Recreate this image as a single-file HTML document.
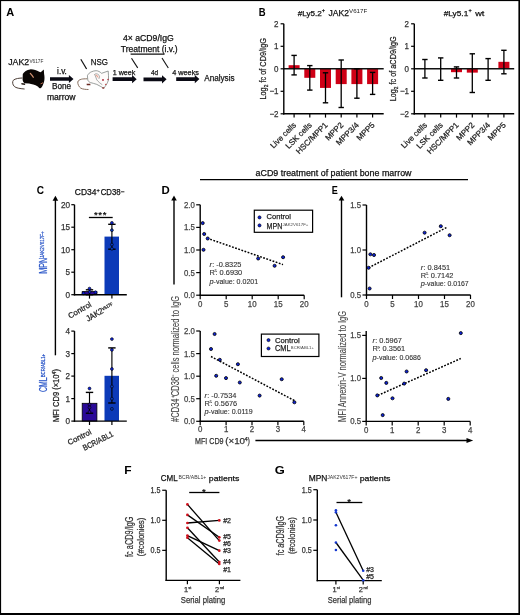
<!DOCTYPE html>
<html><head><meta charset="utf-8"><style>
html,body{margin:0;padding:0;background:#fff;}
svg{display:block;font-family:"Liberation Sans", sans-serif;will-change:transform;}
</style></head><body>
<svg width="520" height="615" viewBox="0 0 520 615">
<rect x="0" y="0" width="520" height="615" fill="#fff"/>
<rect x="0" y="0" width="520" height="1.1" fill="#000"/>
<rect x="0" y="0" width="1.1" height="615" fill="#000"/>
<rect x="518.4" y="0" width="1.6" height="615" fill="#000"/>
<rect x="0" y="613" width="520" height="2" fill="#000"/>
<text x="6.23" y="15.70" font-size="11.2" font-weight="bold" textLength="7.97" lengthAdjust="spacingAndGlyphs">A</text>
<text x="8.20" y="65.20" font-size="9.6" fill="#111" textLength="21.00" lengthAdjust="spacingAndGlyphs" stroke="#111" stroke-width="0.25">JAK2</text>
<text x="29.40" y="62.60" font-size="4.8" fill="#333" textLength="14.00" lengthAdjust="spacingAndGlyphs" stroke="none">V617F</text>
<path d="M50.00 77.15 H68.90 V74.90 L73.50 79.00 L68.90 83.10 V80.85 H50.00 Z" fill="#0a0a14"/>
<path d="M112.60 77.35 H132.10 V75.10 L136.70 79.20 L132.10 83.30 V81.05 H112.60 Z" fill="#0a0a14"/>
<path d="M143.50 77.45 H162.00 V75.20 L166.60 79.30 L162.00 83.40 V81.15 H143.50 Z" fill="#0a0a14"/>
<path d="M176.20 77.25 H194.80 V75.00 L199.40 79.10 L194.80 83.20 V80.95 H176.20 Z" fill="#0a0a14"/>
<text x="62.00" y="73.70" font-size="8.3" text-anchor="middle" fill="#111" textLength="9.80" lengthAdjust="spacingAndGlyphs" stroke="#111" stroke-width="0.25">i.v.</text>
<text x="61.60" y="88.90" font-size="8.3" text-anchor="middle" fill="#111" textLength="19.20" lengthAdjust="spacingAndGlyphs" stroke="#111" stroke-width="0.25">Bone</text>
<text x="61.25" y="99.50" font-size="8.3" text-anchor="middle" fill="#111" textLength="28.70" lengthAdjust="spacingAndGlyphs" stroke="#111" stroke-width="0.25">marrow</text>
<text x="90.80" y="65.00" font-size="9.6" fill="#111" textLength="17.20" lengthAdjust="spacingAndGlyphs" stroke="#111" stroke-width="0.25">NSG</text>
<line x1="80.80" y1="59.20" x2="86.60" y2="69.00" stroke="#111" stroke-width="1.2" />
<text x="112.70" y="75.20" font-size="7.6" fill="#111" textLength="22.70" lengthAdjust="spacingAndGlyphs" stroke="#111" stroke-width="0.25">1 week</text>
<text x="154.60" y="75.00" font-size="7.6" text-anchor="middle" fill="#111" textLength="7.20" lengthAdjust="spacingAndGlyphs" stroke="#111" stroke-width="0.25">4d</text>
<text x="172.20" y="75.20" font-size="7.6" fill="#111" textLength="26.80" lengthAdjust="spacingAndGlyphs" stroke="#111" stroke-width="0.25">4 weeks</text>
<text x="204.20" y="80.80" font-size="9.2" fill="#111" textLength="30.40" lengthAdjust="spacingAndGlyphs" stroke="#111" stroke-width="0.25">Analysis</text>
<text x="123.00" y="41.20" font-size="8.3" fill="#111" textLength="50.80" lengthAdjust="spacingAndGlyphs" stroke="#111" stroke-width="0.25">4× aCD9/IgG</text>
<text x="120.80" y="51.90" font-size="8.3" fill="#111" textLength="56.90" lengthAdjust="spacingAndGlyphs" stroke="#111" stroke-width="0.25">Treatment (i.v.)</text>
<line x1="130.60" y1="54.20" x2="164.40" y2="54.20" stroke="#111" stroke-width="1.2" />
<line x1="131.50" y1="58.30" x2="137.70" y2="67.90" stroke="#111" stroke-width="1.1" />
<line x1="162.00" y1="58.00" x2="168.30" y2="68.00" stroke="#111" stroke-width="1.1" />
<g id="blackmouse">
<path d="M22.4 78 C19.5 78.1 15 78.5 13.3 80.3 C12.2 81.6 12.4 84.8 14.4 86.5 C16 88 19.5 88.6 24.6 89" fill="none" stroke="#4e4038" stroke-width="1.0"/>
<path d="M22.8 74 C24 71.5 27 69.8 30 69.4 C33 69.1 36.5 70.3 39.2 71.8 L40.7 72.2 L43.8 69.6 L44.1 74 C44.6 76.5 44.6 79 44.3 80.6 C44 82.5 43.4 84 42.9 85 C42.3 86.5 41.5 87.8 40.5 88.3 C39.5 88.4 38.5 87.3 37.8 86.5 C35 85 31.5 84 29 83.6 L24.6 83.3 C23.5 82.5 22.6 81 22.6 79.5 Z" fill="#0a0604"/>
<path d="M21.3 83.0 L25 83.4 L25.2 84.9 L21.6 84.6 Z" fill="#1a100a"/>
<path d="M30.3 73.4 C31.5 74.6 32.6 76 33.3 77.3" stroke="#d09070" stroke-width="1.3" fill="none" stroke-linecap="round"/>
<path d="M40.6 83.8 C41.6 83.6 42.4 83.2 43 82.6" stroke="#b86a4a" stroke-width="1.0" fill="none"/>
</g>
<g id="whitemouse">
<path d="M87.4 78.8 C85 78.8 82.5 78.9 81.5 79.2 C79.5 79.8 78 80.5 77.8 82 C77.6 84 78.8 86.8 80.8 88.2 C83 89.3 86 89.5 88.5 89.5" fill="none" stroke="#7a604e" stroke-width="0.9"/>
<path d="M87.4 75.7 C88.5 73.5 89.8 72.5 91.2 71.9 C93 71.1 94.5 70.7 96.1 70.7 C98 70.7 100 71.9 101.6 73.3 L108.2 71.0 L108.5 75.7 C108.6 77 108.6 78.6 108.5 79.9 C108 81.5 107.3 83.2 106.5 84.4 C105.6 85.8 104.7 87.2 103.7 88.2 C101.5 87 99 85.5 96.8 84.4 C94.5 83.6 92.3 83.1 90.5 82.6 C89 82 88 81 87.8 79.9 Z" fill="#fdfbfa" stroke="#6f7573" stroke-width="0.7"/>
<path d="M94.7 74.3 C95.5 76 96 78 96.8 79.9 C98.5 82 100.5 83.5 102.3 84.7" fill="none" stroke="#6f7573" stroke-width="0.6"/>
<path d="M94.4 74.6 C95.5 73.3 97.5 73.5 99 75.2 C99.9 76.4 99.7 78 98.6 79" fill="none" stroke="#7a7f7d" stroke-width="0.6"/>
<path d="M96.0 75.0 C96.8 75.7 97.6 76.4 98.1 77.2" stroke="#e6a696" stroke-width="1.1" fill="none" stroke-linecap="round"/>
<circle cx="103.0" cy="79.9" r="0.95" fill="#a8182a"/>
<circle cx="108.0" cy="79.5" r="0.7" fill="#a8182a"/>
<circle cx="105.8" cy="84.4" r="0.7" fill="#c03838"/>
<path d="M102.2 87.6 L104.2 87.2 L104.4 88.6 L102.4 88.8 Z" fill="#8a2a22"/>
<path d="M86.6 83.8 L90.3 83.7 L90.5 85.2 L86.8 85.2 Z" fill="#6a2a22"/>
</g>
<text x="258.66" y="15.80" font-size="11.2" font-weight="bold" textLength="6.87" lengthAdjust="spacingAndGlyphs">B</text>
<rect x="288.60" y="65.20" width="11.00" height="3.60" fill="#cf0016"/>
<rect x="304.30" y="68.80" width="11.00" height="9.00" fill="#cf0016"/>
<rect x="320.00" y="68.80" width="11.00" height="19.12" fill="#cf0016"/>
<rect x="335.70" y="68.80" width="11.00" height="15.30" fill="#cf0016"/>
<rect x="351.40" y="68.80" width="11.00" height="15.30" fill="#cf0016"/>
<rect x="367.10" y="68.80" width="11.00" height="15.30" fill="#cf0016"/>
<line x1="283.80" y1="68.80" x2="383.70" y2="68.80" stroke="#111" stroke-width="1.5" />
<line x1="294.10" y1="55.40" x2="294.10" y2="74.90" stroke="#000" stroke-width="1.3" />
<line x1="291.40" y1="55.40" x2="296.80" y2="55.40" stroke="#000" stroke-width="1.4" />
<line x1="291.40" y1="74.90" x2="296.80" y2="74.90" stroke="#000" stroke-width="1.4" />
<line x1="309.80" y1="65.60" x2="309.80" y2="90.10" stroke="#000" stroke-width="1.3" />
<line x1="307.10" y1="65.60" x2="312.50" y2="65.60" stroke="#000" stroke-width="1.4" />
<line x1="307.10" y1="90.10" x2="312.50" y2="90.10" stroke="#000" stroke-width="1.4" />
<line x1="325.50" y1="72.80" x2="325.50" y2="102.80" stroke="#000" stroke-width="1.3" />
<line x1="322.80" y1="72.80" x2="328.20" y2="72.80" stroke="#000" stroke-width="1.4" />
<line x1="322.80" y1="102.80" x2="328.20" y2="102.80" stroke="#000" stroke-width="1.4" />
<line x1="341.20" y1="60.00" x2="341.20" y2="107.50" stroke="#000" stroke-width="1.3" />
<line x1="338.50" y1="60.00" x2="343.90" y2="60.00" stroke="#000" stroke-width="1.4" />
<line x1="338.50" y1="107.50" x2="343.90" y2="107.50" stroke="#000" stroke-width="1.4" />
<line x1="356.90" y1="68.80" x2="356.90" y2="98.20" stroke="#000" stroke-width="1.3" />
<line x1="354.20" y1="68.80" x2="359.60" y2="68.80" stroke="#000" stroke-width="1.4" />
<line x1="354.20" y1="98.20" x2="359.60" y2="98.20" stroke="#000" stroke-width="1.4" />
<line x1="372.60" y1="72.40" x2="372.60" y2="94.40" stroke="#000" stroke-width="1.3" />
<line x1="369.90" y1="72.40" x2="375.30" y2="72.40" stroke="#000" stroke-width="1.4" />
<line x1="369.90" y1="94.40" x2="375.30" y2="94.40" stroke="#000" stroke-width="1.4" />
<line x1="283.80" y1="23.80" x2="283.80" y2="114.50" stroke="#000" stroke-width="1.4" />
<line x1="283.10" y1="113.80" x2="383.70" y2="113.80" stroke="#000" stroke-width="1.4" />
<line x1="280.60" y1="23.80" x2="283.80" y2="23.80" stroke="#000" stroke-width="1.2" />
<text x="278.50" y="26.90" font-size="8.8" text-anchor="end" fill="#333" textLength="4.45" lengthAdjust="spacingAndGlyphs" stroke="#333" stroke-width="0.25">2</text>
<line x1="280.60" y1="46.30" x2="283.80" y2="46.30" stroke="#000" stroke-width="1.2" />
<text x="278.50" y="49.40" font-size="8.8" text-anchor="end" fill="#333" textLength="4.45" lengthAdjust="spacingAndGlyphs" stroke="#333" stroke-width="0.25">1</text>
<line x1="280.60" y1="68.80" x2="283.80" y2="68.80" stroke="#000" stroke-width="1.2" />
<text x="278.50" y="71.90" font-size="8.8" text-anchor="end" fill="#333" textLength="4.45" lengthAdjust="spacingAndGlyphs" stroke="#333" stroke-width="0.25">0</text>
<line x1="280.60" y1="91.30" x2="283.80" y2="91.30" stroke="#000" stroke-width="1.2" />
<text x="278.50" y="94.40" font-size="8.8" text-anchor="end" fill="#333" textLength="9.12" lengthAdjust="spacingAndGlyphs" stroke="#333" stroke-width="0.25">−1</text>
<line x1="280.60" y1="113.80" x2="283.80" y2="113.80" stroke="#000" stroke-width="1.2" />
<text x="278.50" y="116.90" font-size="8.8" text-anchor="end" fill="#333" textLength="9.12" lengthAdjust="spacingAndGlyphs" stroke="#333" stroke-width="0.25">−2</text>
<line x1="294.10" y1="113.80" x2="294.10" y2="117.60" stroke="#000" stroke-width="1.2" />
<line x1="309.80" y1="113.80" x2="309.80" y2="117.60" stroke="#000" stroke-width="1.2" />
<line x1="325.50" y1="113.80" x2="325.50" y2="117.60" stroke="#000" stroke-width="1.2" />
<line x1="341.20" y1="113.80" x2="341.20" y2="117.60" stroke="#000" stroke-width="1.2" />
<line x1="356.90" y1="113.80" x2="356.90" y2="117.60" stroke="#000" stroke-width="1.2" />
<line x1="372.60" y1="113.80" x2="372.60" y2="117.60" stroke="#000" stroke-width="1.2" />
<text x="0" y="0" font-size="9.2" fill="#222" text-anchor="middle" textLength="61.5" lengthAdjust="spacingAndGlyphs" transform="translate(265.80 68.80) rotate(-90)" stroke="#222" stroke-width="0.25">Log<tspan font-size="6" dy="2">2</tspan><tspan dy="-2"> fc of CD9/IgG</tspan></text>
<text x="296.70" y="125.60" font-size="8.0" text-anchor="end" fill="#222" transform="rotate(-45 296.70 125.60)" stroke="#222" stroke-width="0.25">Live cells</text>
<text x="312.40" y="125.60" font-size="8.0" text-anchor="end" fill="#222" transform="rotate(-45 312.40 125.60)" stroke="#222" stroke-width="0.25">LSK cells</text>
<text x="328.10" y="125.60" font-size="8.0" text-anchor="end" fill="#222" transform="rotate(-45 328.10 125.60)" stroke="#222" stroke-width="0.25">HSC/MPP1</text>
<text x="343.80" y="125.60" font-size="8.0" text-anchor="end" fill="#222" transform="rotate(-45 343.80 125.60)" stroke="#222" stroke-width="0.25">MPP2</text>
<text x="359.50" y="125.60" font-size="8.0" text-anchor="end" fill="#222" transform="rotate(-45 359.50 125.60)" stroke="#222" stroke-width="0.25">MPP3/4</text>
<text x="375.20" y="125.60" font-size="8.0" text-anchor="end" fill="#222" transform="rotate(-45 375.20 125.60)" stroke="#222" stroke-width="0.25">MPP5</text>
<rect x="451.00" y="68.80" width="11.00" height="3.38" fill="#cf0016"/>
<rect x="466.80" y="68.80" width="11.00" height="3.83" fill="#cf0016"/>
<rect x="498.40" y="61.82" width="11.00" height="6.98" fill="#cf0016"/>
<line x1="414.30" y1="68.80" x2="514.20" y2="68.80" stroke="#111" stroke-width="1.5" />
<line x1="424.90" y1="59.50" x2="424.90" y2="78.00" stroke="#000" stroke-width="1.3" />
<line x1="422.20" y1="59.50" x2="427.60" y2="59.50" stroke="#000" stroke-width="1.4" />
<line x1="422.20" y1="78.00" x2="427.60" y2="78.00" stroke="#000" stroke-width="1.4" />
<line x1="440.70" y1="57.90" x2="440.70" y2="80.30" stroke="#000" stroke-width="1.3" />
<line x1="438.00" y1="57.90" x2="443.40" y2="57.90" stroke="#000" stroke-width="1.4" />
<line x1="438.00" y1="80.30" x2="443.40" y2="80.30" stroke="#000" stroke-width="1.4" />
<line x1="456.50" y1="66.90" x2="456.50" y2="78.00" stroke="#000" stroke-width="1.3" />
<line x1="453.80" y1="66.90" x2="459.20" y2="66.90" stroke="#000" stroke-width="1.4" />
<line x1="453.80" y1="78.00" x2="459.20" y2="78.00" stroke="#000" stroke-width="1.4" />
<line x1="472.30" y1="53.80" x2="472.30" y2="92.50" stroke="#000" stroke-width="1.3" />
<line x1="469.60" y1="53.80" x2="475.00" y2="53.80" stroke="#000" stroke-width="1.4" />
<line x1="469.60" y1="92.50" x2="475.00" y2="92.50" stroke="#000" stroke-width="1.4" />
<line x1="488.10" y1="58.60" x2="488.10" y2="80.30" stroke="#000" stroke-width="1.3" />
<line x1="485.40" y1="58.60" x2="490.80" y2="58.60" stroke="#000" stroke-width="1.4" />
<line x1="485.40" y1="80.30" x2="490.80" y2="80.30" stroke="#000" stroke-width="1.4" />
<line x1="503.90" y1="50.30" x2="503.90" y2="73.80" stroke="#000" stroke-width="1.3" />
<line x1="501.20" y1="50.30" x2="506.60" y2="50.30" stroke="#000" stroke-width="1.4" />
<line x1="501.20" y1="73.80" x2="506.60" y2="73.80" stroke="#000" stroke-width="1.4" />
<line x1="414.30" y1="23.80" x2="414.30" y2="114.50" stroke="#000" stroke-width="1.4" />
<line x1="413.60" y1="113.80" x2="514.20" y2="113.80" stroke="#000" stroke-width="1.4" />
<line x1="411.10" y1="23.80" x2="414.30" y2="23.80" stroke="#000" stroke-width="1.2" />
<text x="409.00" y="26.90" font-size="8.8" text-anchor="end" fill="#333" textLength="4.45" lengthAdjust="spacingAndGlyphs" stroke="#333" stroke-width="0.25">2</text>
<line x1="411.10" y1="46.30" x2="414.30" y2="46.30" stroke="#000" stroke-width="1.2" />
<text x="409.00" y="49.40" font-size="8.8" text-anchor="end" fill="#333" textLength="4.45" lengthAdjust="spacingAndGlyphs" stroke="#333" stroke-width="0.25">1</text>
<line x1="411.10" y1="68.80" x2="414.30" y2="68.80" stroke="#000" stroke-width="1.2" />
<text x="409.00" y="71.90" font-size="8.8" text-anchor="end" fill="#333" textLength="4.45" lengthAdjust="spacingAndGlyphs" stroke="#333" stroke-width="0.25">0</text>
<line x1="411.10" y1="91.30" x2="414.30" y2="91.30" stroke="#000" stroke-width="1.2" />
<text x="409.00" y="94.40" font-size="8.8" text-anchor="end" fill="#333" textLength="9.12" lengthAdjust="spacingAndGlyphs" stroke="#333" stroke-width="0.25">−1</text>
<line x1="411.10" y1="113.80" x2="414.30" y2="113.80" stroke="#000" stroke-width="1.2" />
<text x="409.00" y="116.90" font-size="8.8" text-anchor="end" fill="#333" textLength="9.12" lengthAdjust="spacingAndGlyphs" stroke="#333" stroke-width="0.25">−2</text>
<line x1="424.90" y1="113.80" x2="424.90" y2="117.60" stroke="#000" stroke-width="1.2" />
<line x1="440.70" y1="113.80" x2="440.70" y2="117.60" stroke="#000" stroke-width="1.2" />
<line x1="456.50" y1="113.80" x2="456.50" y2="117.60" stroke="#000" stroke-width="1.2" />
<line x1="472.30" y1="113.80" x2="472.30" y2="117.60" stroke="#000" stroke-width="1.2" />
<line x1="488.10" y1="113.80" x2="488.10" y2="117.60" stroke="#000" stroke-width="1.2" />
<line x1="503.90" y1="113.80" x2="503.90" y2="117.60" stroke="#000" stroke-width="1.2" />
<text x="0" y="0" font-size="9.2" fill="#222" text-anchor="middle" textLength="65.0" lengthAdjust="spacingAndGlyphs" transform="translate(396.20 68.80) rotate(-90)" stroke="#222" stroke-width="0.25">Log<tspan font-size="6" dy="2">2</tspan><tspan dy="-2"> fc of aCD9/IgG</tspan></text>
<text x="427.50" y="125.60" font-size="8.0" text-anchor="end" fill="#222" transform="rotate(-45 427.50 125.60)" stroke="#222" stroke-width="0.25">Live cells</text>
<text x="443.30" y="125.60" font-size="8.0" text-anchor="end" fill="#222" transform="rotate(-45 443.30 125.60)" stroke="#222" stroke-width="0.25">LSK cells</text>
<text x="459.10" y="125.60" font-size="8.0" text-anchor="end" fill="#222" transform="rotate(-45 459.10 125.60)" stroke="#222" stroke-width="0.25">HSC/MPP1</text>
<text x="474.90" y="125.60" font-size="8.0" text-anchor="end" fill="#222" transform="rotate(-45 474.90 125.60)" stroke="#222" stroke-width="0.25">MPP2</text>
<text x="490.70" y="125.60" font-size="8.0" text-anchor="end" fill="#222" transform="rotate(-45 490.70 125.60)" stroke="#222" stroke-width="0.25">MPP3/4</text>
<text x="506.50" y="125.60" font-size="8.0" text-anchor="end" fill="#222" transform="rotate(-45 506.50 125.60)" stroke="#222" stroke-width="0.25">MPP5</text>
<text x="297.70" y="15.70" font-size="8.1" fill="#111" textLength="24.10" lengthAdjust="spacingAndGlyphs" stroke="#111" stroke-width="0.25">#Ly5.2</text>
<text x="321.80" y="12.00" font-size="5.5" fill="#111" stroke="#111" stroke-width="0.25">+</text>
<text x="328.50" y="15.90" font-size="8.8" fill="#111" textLength="20.40" lengthAdjust="spacingAndGlyphs" stroke="#111" stroke-width="0.25">JAK2</text>
<text x="349.00" y="12.80" font-size="6.0" fill="#222" textLength="18.30" lengthAdjust="spacingAndGlyphs" stroke="none">V617F</text>
<text x="443.70" y="16.10" font-size="8.1" fill="#111" textLength="24.60" lengthAdjust="spacingAndGlyphs" stroke="#111" stroke-width="0.25">#Ly5.1</text>
<text x="468.50" y="12.00" font-size="5.5" fill="#111" stroke="#111" stroke-width="0.25">+</text>
<text x="475.20" y="16.10" font-size="8.1" fill="#111" textLength="9.20" lengthAdjust="spacingAndGlyphs" stroke="#111" stroke-width="0.25">wt</text>
<text x="36.69" y="193.90" font-size="11.2" font-weight="bold" textLength="7.29" lengthAdjust="spacingAndGlyphs">C</text>
<text x="74.80" y="195.40" font-size="8.4" fill="#111" textLength="21.60" lengthAdjust="spacingAndGlyphs" stroke="#111" stroke-width="0.25">CD34</text>
<text x="96.40" y="191.80" font-size="5.6" fill="#111" stroke="#111" stroke-width="0.25">+</text>
<text x="100.70" y="195.40" font-size="8.4" fill="#111" textLength="19.90" lengthAdjust="spacingAndGlyphs" stroke="#111" stroke-width="0.25">CD38</text>
<line x1="120.80" y1="191.80" x2="124.40" y2="191.80" stroke="#111" stroke-width="0.9" />
<line x1="55.40" y1="199.80" x2="55.40" y2="355.30" stroke="#000" stroke-width="1.4" />
<path d="M52.60 200.70 L55.40 195.80 L58.20 200.70 Z" fill="#000"/>
<rect x="82.20" y="291.60" width="14.70" height="3.10" fill="#2a0a98" stroke="#000" stroke-width="0.8"/>
<rect x="104.50" y="236.60" width="14.50" height="58.10" fill="#0c3ab8"/>
<line x1="89.50" y1="289.80" x2="89.50" y2="294.70" stroke="#000" stroke-width="1.15" />
<line x1="85.80" y1="289.80" x2="93.20" y2="289.80" stroke="#000" stroke-width="1.4" />
<line x1="85.80" y1="294.70" x2="93.20" y2="294.70" stroke="#000" stroke-width="1.4" />
<line x1="111.90" y1="224.30" x2="111.90" y2="249.20" stroke="#000" stroke-width="1.15" />
<line x1="108.20" y1="224.30" x2="115.60" y2="224.30" stroke="#000" stroke-width="1.4" />
<line x1="108.20" y1="249.20" x2="115.60" y2="249.20" stroke="#000" stroke-width="1.4" />
<circle cx="89.50" cy="288.60" r="1.45" fill="#0c22d8" stroke="#000" stroke-width="0.6"/>
<circle cx="89.60" cy="291.90" r="1.45" fill="#0c22d8" stroke="#000" stroke-width="0.6"/>
<circle cx="83.50" cy="293.30" r="1.45" fill="#0c22d8" stroke="#000" stroke-width="0.6"/>
<circle cx="95.50" cy="292.30" r="1.45" fill="#0c22d8" stroke="#000" stroke-width="0.6"/>
<circle cx="111.90" cy="222.90" r="1.45" fill="#0c22d8" stroke="#000" stroke-width="0.6"/>
<circle cx="111.90" cy="230.20" r="1.45" fill="#0c3ab8" stroke="#000" stroke-width="0.6"/>
<circle cx="111.90" cy="244.60" r="1.45" fill="#0c3ab8" stroke="#000" stroke-width="0.6"/>
<circle cx="111.90" cy="248.80" r="1.45" fill="#0c3ab8" stroke="#000" stroke-width="0.6"/>
<line x1="74.50" y1="204.70" x2="74.50" y2="295.40" stroke="#000" stroke-width="1.4" />
<line x1="73.80" y1="294.70" x2="126.80" y2="294.70" stroke="#000" stroke-width="1.4" />
<line x1="71.30" y1="294.70" x2="74.50" y2="294.70" stroke="#000" stroke-width="1.2" />
<text x="70.10" y="297.80" font-size="8.8" text-anchor="end" fill="#333" textLength="4.56" lengthAdjust="spacingAndGlyphs" stroke="#333" stroke-width="0.25">0</text>
<line x1="71.30" y1="272.20" x2="74.50" y2="272.20" stroke="#000" stroke-width="1.2" />
<text x="70.10" y="275.30" font-size="8.8" text-anchor="end" fill="#333" textLength="4.56" lengthAdjust="spacingAndGlyphs" stroke="#333" stroke-width="0.25">5</text>
<line x1="71.30" y1="249.70" x2="74.50" y2="249.70" stroke="#000" stroke-width="1.2" />
<text x="70.10" y="252.80" font-size="8.8" text-anchor="end" fill="#333" textLength="9.12" lengthAdjust="spacingAndGlyphs" stroke="#333" stroke-width="0.25">10</text>
<line x1="71.30" y1="227.20" x2="74.50" y2="227.20" stroke="#000" stroke-width="1.2" />
<text x="70.10" y="230.30" font-size="8.8" text-anchor="end" fill="#333" textLength="9.12" lengthAdjust="spacingAndGlyphs" stroke="#333" stroke-width="0.25">15</text>
<line x1="71.30" y1="204.70" x2="74.50" y2="204.70" stroke="#000" stroke-width="1.2" />
<text x="70.10" y="207.80" font-size="8.8" text-anchor="end" fill="#333" textLength="9.12" lengthAdjust="spacingAndGlyphs" stroke="#333" stroke-width="0.25">20</text>
<line x1="89.50" y1="294.70" x2="89.50" y2="298.60" stroke="#000" stroke-width="1.2" />
<line x1="111.90" y1="294.70" x2="111.90" y2="298.60" stroke="#000" stroke-width="1.2" />
<rect x="82.20" y="403.30" width="14.70" height="17.80" fill="#2a0a98" stroke="#000" stroke-width="0.8"/>
<rect x="104.50" y="375.80" width="14.50" height="45.30" fill="#0c3ab8"/>
<line x1="89.50" y1="392.40" x2="89.50" y2="413.20" stroke="#000" stroke-width="1.15" />
<line x1="85.80" y1="392.40" x2="93.20" y2="392.40" stroke="#000" stroke-width="1.4" />
<line x1="85.80" y1="413.20" x2="93.20" y2="413.20" stroke="#000" stroke-width="1.4" />
<line x1="111.90" y1="347.90" x2="111.90" y2="403.00" stroke="#000" stroke-width="1.15" />
<line x1="108.20" y1="347.90" x2="115.60" y2="347.90" stroke="#000" stroke-width="1.4" />
<line x1="108.20" y1="403.00" x2="115.60" y2="403.00" stroke="#000" stroke-width="1.4" />
<circle cx="89.50" cy="388.50" r="1.45" fill="#0c22d8" stroke="#000" stroke-width="0.6"/>
<circle cx="89.50" cy="404.50" r="1.45" fill="#2a0a98" stroke="#000" stroke-width="0.6"/>
<circle cx="89.50" cy="407.50" r="1.45" fill="#2a0a98" stroke="#000" stroke-width="0.6"/>
<circle cx="89.50" cy="412.00" r="1.45" fill="#2a0a98" stroke="#000" stroke-width="0.6"/>
<circle cx="111.90" cy="339.10" r="1.45" fill="#0c22d8" stroke="#000" stroke-width="0.6"/>
<circle cx="111.90" cy="349.90" r="1.45" fill="#0c22d8" stroke="#000" stroke-width="0.6"/>
<circle cx="111.90" cy="369.00" r="1.45" fill="#0c22d8" stroke="#000" stroke-width="0.6"/>
<circle cx="111.90" cy="386.50" r="1.45" fill="#0c3ab8" stroke="#000" stroke-width="0.6"/>
<circle cx="111.90" cy="398.80" r="1.45" fill="#0c3ab8" stroke="#000" stroke-width="0.6"/>
<circle cx="111.90" cy="408.90" r="1.45" fill="#0c3ab8" stroke="#000" stroke-width="0.6"/>
<line x1="74.50" y1="331.10" x2="74.50" y2="421.80" stroke="#000" stroke-width="1.4" />
<line x1="73.80" y1="421.10" x2="126.80" y2="421.10" stroke="#000" stroke-width="1.4" />
<line x1="71.30" y1="421.10" x2="74.50" y2="421.10" stroke="#000" stroke-width="1.2" />
<text x="70.10" y="424.20" font-size="8.8" text-anchor="end" fill="#333" textLength="4.56" lengthAdjust="spacingAndGlyphs" stroke="#333" stroke-width="0.25">0</text>
<line x1="71.30" y1="398.60" x2="74.50" y2="398.60" stroke="#000" stroke-width="1.2" />
<text x="70.10" y="401.70" font-size="8.8" text-anchor="end" fill="#333" textLength="4.56" lengthAdjust="spacingAndGlyphs" stroke="#333" stroke-width="0.25">1</text>
<line x1="71.30" y1="376.10" x2="74.50" y2="376.10" stroke="#000" stroke-width="1.2" />
<text x="70.10" y="379.20" font-size="8.8" text-anchor="end" fill="#333" textLength="4.56" lengthAdjust="spacingAndGlyphs" stroke="#333" stroke-width="0.25">2</text>
<line x1="71.30" y1="353.60" x2="74.50" y2="353.60" stroke="#000" stroke-width="1.2" />
<text x="70.10" y="356.70" font-size="8.8" text-anchor="end" fill="#333" textLength="4.56" lengthAdjust="spacingAndGlyphs" stroke="#333" stroke-width="0.25">3</text>
<line x1="71.30" y1="331.10" x2="74.50" y2="331.10" stroke="#000" stroke-width="1.2" />
<text x="70.10" y="334.20" font-size="8.8" text-anchor="end" fill="#333" textLength="4.56" lengthAdjust="spacingAndGlyphs" stroke="#333" stroke-width="0.25">4</text>
<line x1="89.50" y1="421.10" x2="89.50" y2="425.00" stroke="#000" stroke-width="1.2" />
<line x1="111.90" y1="421.10" x2="111.90" y2="425.00" stroke="#000" stroke-width="1.2" />
<line x1="88.90" y1="217.50" x2="112.70" y2="217.50" stroke="#000" stroke-width="1.3" />
<text x="95.80" y="218.30" font-size="9.6" text-anchor="middle" font-weight="bold" fill="#111">*</text>
<text x="100.20" y="218.30" font-size="9.6" text-anchor="middle" font-weight="bold" fill="#111">*</text>
<text x="104.60" y="218.30" font-size="9.6" text-anchor="middle" font-weight="bold" fill="#111">*</text>
<text x="0" y="0" font-size="7.8" fill="#222" text-anchor="end" textLength="25.50" lengthAdjust="spacingAndGlyphs" transform="translate(92.00 306.00) rotate(-30)" stroke="#222" stroke-width="0.25">Control</text>
<text x="0" y="0" font-size="8.4" fill="#222" text-anchor="end" textLength="18.50" lengthAdjust="spacingAndGlyphs" transform="translate(104.00 312.60) rotate(-30)" stroke="#222" stroke-width="0.25">JAK2</text>
<text x="0" y="0" font-size="4.6" fill="#222" text-anchor="end" textLength="11.50" lengthAdjust="spacingAndGlyphs" transform="translate(113.00 305.00) rotate(-30)" stroke="#222" stroke-width="0.25">V617F</text>
<text x="0" y="0" font-size="7.8" fill="#222" text-anchor="end" textLength="25.50" lengthAdjust="spacingAndGlyphs" transform="translate(92.00 433.70) rotate(-27)" stroke="#222" stroke-width="0.25">Control</text>
<text x="0" y="0" font-size="8.0" fill="#222" text-anchor="end" textLength="33.00" lengthAdjust="spacingAndGlyphs" transform="translate(114.00 435.80) rotate(-27)" stroke="#222" stroke-width="0.25">BCR/ABL1</text>
<text font-size="10.5" fill="#2a56c8" transform="translate(46.9 273.7) rotate(-90)" stroke="#2a56c8" stroke-width="0.25"><tspan textLength="16" lengthAdjust="spacingAndGlyphs">MPN</tspan></text>
<text font-size="6.2" fill="#2a56c8" transform="translate(43.6 257.9) rotate(-90)" stroke="#2a56c8" stroke-width="0.25"><tspan textLength="26.6" lengthAdjust="spacingAndGlyphs">JAK2V617F+</tspan></text>
<text font-size="10.5" fill="#2a56c8" transform="translate(46.9 392.0) rotate(-90)" stroke="#2a56c8" stroke-width="0.25"><tspan textLength="14.7" lengthAdjust="spacingAndGlyphs">CML</tspan></text>
<text font-size="6.2" fill="#2a56c8" transform="translate(44.6 377.3) rotate(-90)" stroke="#2a56c8" stroke-width="0.25"><tspan textLength="23.4" lengthAdjust="spacingAndGlyphs">BCR/ABL1+</tspan></text>
<text font-size="8.8" fill="#222" transform="translate(59.4 422.0) rotate(-90)" stroke="#222" stroke-width="0.25"><tspan textLength="47.5" lengthAdjust="spacingAndGlyphs">MFI CD9 (×10</tspan><tspan font-size="5" dy="-3.4">4</tspan><tspan dy="3.4">)</tspan></text>
<text x="255.60" y="176.30" font-size="8.5" fill="#111" textLength="155.90" lengthAdjust="spacingAndGlyphs" stroke="#111" stroke-width="0.25">aCD9 treatment of patient bone marrow</text>
<line x1="200.00" y1="179.60" x2="468.00" y2="179.60" stroke="#000" stroke-width="1.3" />
<text x="161.54" y="194.10" font-size="11.2" font-weight="bold" textLength="8.24" lengthAdjust="spacingAndGlyphs">D</text>
<text x="331.69" y="193.60" font-size="11.2" font-weight="bold" textLength="6.06" lengthAdjust="spacingAndGlyphs">E</text>
<line x1="174.00" y1="199.60" x2="174.00" y2="284.40" stroke="#000" stroke-width="1.4" />
<path d="M171.20 200.50 L174.00 195.60 L176.80 200.50 Z" fill="#000"/>
<line x1="341.50" y1="199.70" x2="341.50" y2="297.30" stroke="#000" stroke-width="1.4" />
<path d="M338.70 200.60 L341.50 195.70 L344.30 200.60 Z" fill="#000"/>
<line x1="200.20" y1="204.80" x2="200.20" y2="295.90" stroke="#000" stroke-width="1.4" />
<line x1="199.50" y1="295.20" x2="304.20" y2="295.20" stroke="#000" stroke-width="1.4" />
<line x1="196.20" y1="295.20" x2="200.20" y2="295.20" stroke="#000" stroke-width="1.2" />
<text x="194.80" y="298.20" font-size="8.6" text-anchor="end" fill="#444" textLength="10.84" lengthAdjust="spacingAndGlyphs" stroke="#444" stroke-width="0.25">0.0</text>
<line x1="196.20" y1="272.60" x2="200.20" y2="272.60" stroke="#000" stroke-width="1.2" />
<text x="194.80" y="275.60" font-size="8.6" text-anchor="end" fill="#444" textLength="10.84" lengthAdjust="spacingAndGlyphs" stroke="#444" stroke-width="0.25">0.5</text>
<line x1="196.20" y1="250.00" x2="200.20" y2="250.00" stroke="#000" stroke-width="1.2" />
<text x="194.80" y="253.00" font-size="8.6" text-anchor="end" fill="#444" textLength="10.84" lengthAdjust="spacingAndGlyphs" stroke="#444" stroke-width="0.25">1.0</text>
<line x1="196.20" y1="227.40" x2="200.20" y2="227.40" stroke="#000" stroke-width="1.2" />
<text x="194.80" y="230.40" font-size="8.6" text-anchor="end" fill="#444" textLength="10.84" lengthAdjust="spacingAndGlyphs" stroke="#444" stroke-width="0.25">1.5</text>
<line x1="196.20" y1="204.80" x2="200.20" y2="204.80" stroke="#000" stroke-width="1.2" />
<text x="194.80" y="207.80" font-size="8.6" text-anchor="end" fill="#444" textLength="10.84" lengthAdjust="spacingAndGlyphs" stroke="#444" stroke-width="0.25">2.0</text>
<line x1="200.20" y1="295.20" x2="200.20" y2="299.20" stroke="#000" stroke-width="1.2" />
<text x="200.20" y="306.60" font-size="8.6" text-anchor="middle" fill="#444" textLength="4.39" lengthAdjust="spacingAndGlyphs" stroke="#444" stroke-width="0.25">0</text>
<line x1="226.20" y1="295.20" x2="226.20" y2="299.20" stroke="#000" stroke-width="1.2" />
<text x="226.20" y="306.60" font-size="8.6" text-anchor="middle" fill="#444" textLength="4.39" lengthAdjust="spacingAndGlyphs" stroke="#444" stroke-width="0.25">5</text>
<line x1="252.20" y1="295.20" x2="252.20" y2="299.20" stroke="#000" stroke-width="1.2" />
<text x="252.20" y="306.60" font-size="8.6" text-anchor="middle" fill="#444" textLength="8.79" lengthAdjust="spacingAndGlyphs" stroke="#444" stroke-width="0.25">10</text>
<line x1="278.20" y1="295.20" x2="278.20" y2="299.20" stroke="#000" stroke-width="1.2" />
<text x="278.20" y="306.60" font-size="8.6" text-anchor="middle" fill="#444" textLength="8.79" lengthAdjust="spacingAndGlyphs" stroke="#444" stroke-width="0.25">15</text>
<line x1="304.20" y1="295.20" x2="304.20" y2="299.20" stroke="#000" stroke-width="1.2" />
<text x="304.20" y="306.60" font-size="8.6" text-anchor="middle" fill="#444" textLength="8.79" lengthAdjust="spacingAndGlyphs" stroke="#444" stroke-width="0.25">20</text>
<line x1="207.10" y1="238.20" x2="283.00" y2="264.60" stroke="#000" stroke-width="1.5" stroke-dasharray="1.8 1.5"/>
<circle cx="202.70" cy="223.10" r="1.55" fill="#0c22d8" stroke="#000" stroke-width="0.8"/>
<circle cx="204.20" cy="234.00" r="1.55" fill="#0c22d8" stroke="#000" stroke-width="0.8"/>
<circle cx="207.70" cy="238.50" r="1.55" fill="#0c22d8" stroke="#000" stroke-width="0.8"/>
<circle cx="203.50" cy="249.80" r="1.55" fill="#0c22d8" stroke="#000" stroke-width="0.8"/>
<circle cx="258.20" cy="258.50" r="1.55" fill="#0c22d8" stroke="#000" stroke-width="0.8"/>
<circle cx="283.10" cy="257.20" r="1.55" fill="#0c22d8" stroke="#000" stroke-width="0.8"/>
<circle cx="274.60" cy="265.80" r="1.55" fill="#0c22d8" stroke="#000" stroke-width="0.8"/>
<text x="209.60" y="267.30" font-size="7.4" fill="#333" font-style="italic" stroke="#333" stroke-width="0.12">r</text>
<text x="212.20" y="267.30" font-size="7.4" fill="#333" stroke="#333" stroke-width="0.12">: -0.8325</text>
<text x="209.60" y="275.30" font-size="7.4" fill="#333" stroke="#333" stroke-width="0.12">R</text>
<text x="214.50" y="272.40" font-size="3.6" fill="#555" stroke="#333" stroke-width="0.12">2</text>
<text x="215.50" y="275.30" font-size="7.4" fill="#333" stroke="#333" stroke-width="0.12">: 0.6930</text>
<text x="209.60" y="283.70" font-size="7.4" fill="#333" font-style="italic" stroke="#333" stroke-width="0.12">p</text>
<text x="213.60" y="283.70" font-size="7.4" fill="#333" textLength="44.50" lengthAdjust="spacingAndGlyphs" stroke="#333" stroke-width="0.12">-value: 0.0201</text>
<rect x="254.30" y="210.20" width="58.30" height="22.10" fill="#fff" stroke="#000" stroke-width="1.2"/>
<circle cx="259.50" cy="217.40" r="1.55" fill="#0c22d8" stroke="#000" stroke-width="0.6"/>
<circle cx="259.50" cy="225.40" r="1.55" fill="#0c22d8" stroke="#000" stroke-width="0.6"/>
<text x="266.50" y="218.90" font-size="7.7" fill="#222" textLength="24.50" lengthAdjust="spacingAndGlyphs" stroke="#222" stroke-width="0.25">Control</text>
<text x="266.50" y="228.50" font-size="8.6" fill="#222" textLength="15.80" lengthAdjust="spacingAndGlyphs" stroke="#222" stroke-width="0.25">MPN</text>
<text x="282.60" y="226.00" font-size="4.4" fill="#444" textLength="25.80" lengthAdjust="spacingAndGlyphs" stroke="none">JAK2V617F+</text>
<line x1="200.20" y1="331.00" x2="200.20" y2="422.00" stroke="#000" stroke-width="1.4" />
<line x1="199.50" y1="421.30" x2="303.80" y2="421.30" stroke="#000" stroke-width="1.4" />
<line x1="196.20" y1="421.30" x2="200.20" y2="421.30" stroke="#000" stroke-width="1.2" />
<text x="194.80" y="424.30" font-size="8.6" text-anchor="end" fill="#444" textLength="10.84" lengthAdjust="spacingAndGlyphs" stroke="#444" stroke-width="0.25">0.0</text>
<line x1="196.20" y1="398.70" x2="200.20" y2="398.70" stroke="#000" stroke-width="1.2" />
<text x="194.80" y="401.70" font-size="8.6" text-anchor="end" fill="#444" textLength="10.84" lengthAdjust="spacingAndGlyphs" stroke="#444" stroke-width="0.25">0.5</text>
<line x1="196.20" y1="376.20" x2="200.20" y2="376.20" stroke="#000" stroke-width="1.2" />
<text x="194.80" y="379.20" font-size="8.6" text-anchor="end" fill="#444" textLength="10.84" lengthAdjust="spacingAndGlyphs" stroke="#444" stroke-width="0.25">1.0</text>
<line x1="196.20" y1="353.60" x2="200.20" y2="353.60" stroke="#000" stroke-width="1.2" />
<text x="194.80" y="356.60" font-size="8.6" text-anchor="end" fill="#444" textLength="10.84" lengthAdjust="spacingAndGlyphs" stroke="#444" stroke-width="0.25">1.5</text>
<line x1="196.20" y1="331.00" x2="200.20" y2="331.00" stroke="#000" stroke-width="1.2" />
<text x="194.80" y="334.00" font-size="8.6" text-anchor="end" fill="#444" textLength="10.84" lengthAdjust="spacingAndGlyphs" stroke="#444" stroke-width="0.25">2.0</text>
<line x1="200.20" y1="421.30" x2="200.20" y2="425.30" stroke="#000" stroke-width="1.2" />
<text x="200.20" y="432.40" font-size="8.6" text-anchor="middle" fill="#444" textLength="4.39" lengthAdjust="spacingAndGlyphs" stroke="#444" stroke-width="0.25">0</text>
<line x1="226.10" y1="421.30" x2="226.10" y2="425.30" stroke="#000" stroke-width="1.2" />
<text x="226.10" y="432.40" font-size="8.6" text-anchor="middle" fill="#444" textLength="4.39" lengthAdjust="spacingAndGlyphs" stroke="#444" stroke-width="0.25">1</text>
<line x1="252.00" y1="421.30" x2="252.00" y2="425.30" stroke="#000" stroke-width="1.2" />
<text x="252.00" y="432.40" font-size="8.6" text-anchor="middle" fill="#444" textLength="4.39" lengthAdjust="spacingAndGlyphs" stroke="#444" stroke-width="0.25">2</text>
<line x1="277.90" y1="421.30" x2="277.90" y2="425.30" stroke="#000" stroke-width="1.2" />
<text x="277.90" y="432.40" font-size="8.6" text-anchor="middle" fill="#444" textLength="4.39" lengthAdjust="spacingAndGlyphs" stroke="#444" stroke-width="0.25">3</text>
<line x1="303.80" y1="421.30" x2="303.80" y2="425.30" stroke="#000" stroke-width="1.2" />
<text x="303.80" y="432.40" font-size="8.6" text-anchor="middle" fill="#444" textLength="4.39" lengthAdjust="spacingAndGlyphs" stroke="#444" stroke-width="0.25">4</text>
<line x1="211.00" y1="356.50" x2="294.80" y2="400.80" stroke="#000" stroke-width="1.5" stroke-dasharray="1.8 1.5"/>
<circle cx="214.60" cy="334.00" r="1.55" fill="#0c22d8" stroke="#000" stroke-width="0.8"/>
<circle cx="211.00" cy="349.00" r="1.55" fill="#0c22d8" stroke="#000" stroke-width="0.8"/>
<circle cx="219.80" cy="359.80" r="1.55" fill="#0c22d8" stroke="#000" stroke-width="0.8"/>
<circle cx="237.90" cy="364.20" r="1.55" fill="#0c22d8" stroke="#000" stroke-width="0.8"/>
<circle cx="216.20" cy="375.80" r="1.55" fill="#0c22d8" stroke="#000" stroke-width="0.8"/>
<circle cx="226.00" cy="378.10" r="1.55" fill="#0c22d8" stroke="#000" stroke-width="0.8"/>
<circle cx="239.80" cy="382.50" r="1.55" fill="#0c22d8" stroke="#000" stroke-width="0.8"/>
<circle cx="259.60" cy="395.60" r="1.55" fill="#0c22d8" stroke="#000" stroke-width="0.8"/>
<circle cx="281.70" cy="379.20" r="1.55" fill="#0c22d8" stroke="#000" stroke-width="0.8"/>
<circle cx="294.40" cy="402.30" r="1.55" fill="#0c22d8" stroke="#000" stroke-width="0.8"/>
<text x="204.60" y="397.90" font-size="7.4" fill="#333" font-style="italic" stroke="#333" stroke-width="0.12">r</text>
<text x="207.20" y="397.90" font-size="7.4" fill="#333" stroke="#333" stroke-width="0.12">: -0.7534</text>
<text x="204.60" y="406.00" font-size="7.4" fill="#333" stroke="#333" stroke-width="0.12">R</text>
<text x="209.50" y="403.10" font-size="3.6" fill="#555" stroke="#333" stroke-width="0.12">2</text>
<text x="210.50" y="406.00" font-size="7.4" fill="#333" stroke="#333" stroke-width="0.12">: 0.5676</text>
<text x="204.60" y="414.20" font-size="7.4" fill="#333" font-style="italic" stroke="#333" stroke-width="0.12">p</text>
<text x="208.60" y="414.20" font-size="7.4" fill="#333" textLength="44.10" lengthAdjust="spacingAndGlyphs" stroke="#333" stroke-width="0.12">-value: 0.0119</text>
<rect x="261.40" y="334.10" width="57.50" height="22.40" fill="#fff" stroke="#000" stroke-width="1.2"/>
<circle cx="268.50" cy="340.10" r="1.55" fill="#0c22d8" stroke="#000" stroke-width="0.6"/>
<circle cx="268.50" cy="348.50" r="1.55" fill="#0c22d8" stroke="#000" stroke-width="0.6"/>
<text x="275.00" y="342.60" font-size="7.7" fill="#222" textLength="24.80" lengthAdjust="spacingAndGlyphs" stroke="#222" stroke-width="0.25">Control</text>
<text x="275.00" y="350.90" font-size="8.6" fill="#222" textLength="15.60" lengthAdjust="spacingAndGlyphs" stroke="#222" stroke-width="0.25">CML</text>
<text x="290.80" y="349.30" font-size="4.4" fill="#444" textLength="23.20" lengthAdjust="spacingAndGlyphs" stroke="none">BCR/ABL1+</text>
<text font-size="10.0" fill="#444" stroke="#444" stroke-width="0.1" text-anchor="middle" transform="translate(179.2 358.9) rotate(-90)"><tspan textLength="126" lengthAdjust="spacingAndGlyphs">#CD34⁺CD38⁻ cells normalized to IgG</tspan></text>
<text x="195.00" y="444.00" font-size="9.4" fill="#333" textLength="28.60" lengthAdjust="spacingAndGlyphs" stroke="#333" stroke-width="0.25">MFI CD9</text>
<text x="225.20" y="444.00" font-size="9.4" fill="#333" textLength="19.80" lengthAdjust="spacingAndGlyphs" stroke="#333" stroke-width="0.25">(×10</text>
<text x="244.60" y="440.60" font-size="5.8" fill="#333" stroke="#333" stroke-width="0.25">4</text>
<text x="247.40" y="444.00" font-size="9.4" fill="#333" textLength="2.40" lengthAdjust="spacingAndGlyphs" stroke="#333" stroke-width="0.25">)</text>
<line x1="255.40" y1="440.50" x2="468.00" y2="440.50" stroke="#000" stroke-width="1.4" />
<path d="M466.5 437.9 L473.2 440.5 L466.5 443.1 Z" fill="#000"/>
<line x1="366.50" y1="205.00" x2="366.50" y2="295.70" stroke="#000" stroke-width="1.4" />
<line x1="365.80" y1="295.00" x2="470.60" y2="295.00" stroke="#000" stroke-width="1.4" />
<line x1="362.50" y1="295.00" x2="366.50" y2="295.00" stroke="#000" stroke-width="1.2" />
<text x="361.00" y="298.00" font-size="8.6" text-anchor="end" fill="#444" textLength="10.84" lengthAdjust="spacingAndGlyphs" stroke="#444" stroke-width="0.25">0.5</text>
<line x1="362.50" y1="250.00" x2="366.50" y2="250.00" stroke="#000" stroke-width="1.2" />
<text x="361.00" y="253.00" font-size="8.6" text-anchor="end" fill="#444" textLength="10.84" lengthAdjust="spacingAndGlyphs" stroke="#444" stroke-width="0.25">1.0</text>
<line x1="362.50" y1="205.00" x2="366.50" y2="205.00" stroke="#000" stroke-width="1.2" />
<text x="361.00" y="208.00" font-size="8.6" text-anchor="end" fill="#444" textLength="10.84" lengthAdjust="spacingAndGlyphs" stroke="#444" stroke-width="0.25">1.5</text>
<line x1="366.50" y1="295.00" x2="366.50" y2="299.00" stroke="#000" stroke-width="1.2" />
<text x="366.50" y="306.60" font-size="8.6" text-anchor="middle" fill="#444" textLength="4.39" lengthAdjust="spacingAndGlyphs" stroke="#444" stroke-width="0.25">0</text>
<line x1="392.50" y1="295.00" x2="392.50" y2="299.00" stroke="#000" stroke-width="1.2" />
<text x="392.50" y="306.60" font-size="8.6" text-anchor="middle" fill="#444" textLength="4.39" lengthAdjust="spacingAndGlyphs" stroke="#444" stroke-width="0.25">5</text>
<line x1="418.50" y1="295.00" x2="418.50" y2="299.00" stroke="#000" stroke-width="1.2" />
<text x="418.50" y="306.60" font-size="8.6" text-anchor="middle" fill="#444" textLength="8.79" lengthAdjust="spacingAndGlyphs" stroke="#444" stroke-width="0.25">10</text>
<line x1="444.50" y1="295.00" x2="444.50" y2="299.00" stroke="#000" stroke-width="1.2" />
<text x="444.50" y="306.60" font-size="8.6" text-anchor="middle" fill="#444" textLength="8.79" lengthAdjust="spacingAndGlyphs" stroke="#444" stroke-width="0.25">15</text>
<line x1="470.50" y1="295.00" x2="470.50" y2="299.00" stroke="#000" stroke-width="1.2" />
<text x="470.50" y="306.60" font-size="8.6" text-anchor="middle" fill="#444" textLength="8.79" lengthAdjust="spacingAndGlyphs" stroke="#444" stroke-width="0.25">20</text>
<line x1="368.60" y1="267.80" x2="447.70" y2="226.90" stroke="#000" stroke-width="1.5" stroke-dasharray="1.8 1.5"/>
<circle cx="370.40" cy="254.30" r="1.55" fill="#0c22d8" stroke="#000" stroke-width="0.8"/>
<circle cx="374.00" cy="255.00" r="1.55" fill="#0c22d8" stroke="#000" stroke-width="0.8"/>
<circle cx="368.60" cy="267.80" r="1.55" fill="#0c22d8" stroke="#000" stroke-width="0.8"/>
<circle cx="369.60" cy="288.50" r="1.55" fill="#0c22d8" stroke="#000" stroke-width="0.8"/>
<circle cx="424.60" cy="232.70" r="1.55" fill="#0c22d8" stroke="#000" stroke-width="0.8"/>
<circle cx="440.80" cy="226.20" r="1.55" fill="#0c22d8" stroke="#000" stroke-width="0.8"/>
<circle cx="449.60" cy="235.20" r="1.55" fill="#0c22d8" stroke="#000" stroke-width="0.8"/>
<text x="420.80" y="269.60" font-size="7.4" fill="#333" font-style="italic" stroke="#333" stroke-width="0.12">r</text>
<text x="423.40" y="269.60" font-size="7.4" fill="#333" stroke="#333" stroke-width="0.12">: 0.8451</text>
<text x="420.80" y="277.90" font-size="7.4" fill="#333" stroke="#333" stroke-width="0.12">R</text>
<text x="425.70" y="275.00" font-size="3.6" fill="#555" stroke="#333" stroke-width="0.12">2</text>
<text x="426.70" y="277.90" font-size="7.4" fill="#333" stroke="#333" stroke-width="0.12">: 0.7142</text>
<text x="420.80" y="286.00" font-size="7.4" fill="#333" font-style="italic" stroke="#333" stroke-width="0.12">p</text>
<text x="424.80" y="286.00" font-size="7.4" fill="#333" textLength="43.90" lengthAdjust="spacingAndGlyphs" stroke="#333" stroke-width="0.12">-value: 0.0167</text>
<line x1="366.20" y1="331.00" x2="366.20" y2="422.10" stroke="#000" stroke-width="1.4" />
<line x1="365.50" y1="421.40" x2="470.30" y2="421.40" stroke="#000" stroke-width="1.4" />
<line x1="362.20" y1="421.40" x2="366.20" y2="421.40" stroke="#000" stroke-width="1.2" />
<text x="361.00" y="424.40" font-size="8.6" text-anchor="end" fill="#444" textLength="10.84" lengthAdjust="spacingAndGlyphs" stroke="#444" stroke-width="0.25">0.5</text>
<line x1="362.20" y1="378.40" x2="366.20" y2="378.40" stroke="#000" stroke-width="1.2" />
<text x="361.00" y="381.40" font-size="8.6" text-anchor="end" fill="#444" textLength="10.84" lengthAdjust="spacingAndGlyphs" stroke="#444" stroke-width="0.25">1.0</text>
<line x1="362.20" y1="335.40" x2="366.20" y2="335.40" stroke="#000" stroke-width="1.2" />
<text x="361.00" y="338.40" font-size="8.6" text-anchor="end" fill="#444" textLength="10.84" lengthAdjust="spacingAndGlyphs" stroke="#444" stroke-width="0.25">1.5</text>
<line x1="366.20" y1="421.40" x2="366.20" y2="425.40" stroke="#000" stroke-width="1.2" />
<text x="366.20" y="432.50" font-size="8.6" text-anchor="middle" fill="#444" textLength="4.39" lengthAdjust="spacingAndGlyphs" stroke="#444" stroke-width="0.25">0</text>
<line x1="392.20" y1="421.40" x2="392.20" y2="425.40" stroke="#000" stroke-width="1.2" />
<text x="392.20" y="432.50" font-size="8.6" text-anchor="middle" fill="#444" textLength="4.39" lengthAdjust="spacingAndGlyphs" stroke="#444" stroke-width="0.25">1</text>
<line x1="418.20" y1="421.40" x2="418.20" y2="425.40" stroke="#000" stroke-width="1.2" />
<text x="418.20" y="432.50" font-size="8.6" text-anchor="middle" fill="#444" textLength="4.39" lengthAdjust="spacingAndGlyphs" stroke="#444" stroke-width="0.25">2</text>
<line x1="444.20" y1="421.40" x2="444.20" y2="425.40" stroke="#000" stroke-width="1.2" />
<text x="444.20" y="432.50" font-size="8.6" text-anchor="middle" fill="#444" textLength="4.39" lengthAdjust="spacingAndGlyphs" stroke="#444" stroke-width="0.25">3</text>
<line x1="470.20" y1="421.40" x2="470.20" y2="425.40" stroke="#000" stroke-width="1.2" />
<text x="470.20" y="432.50" font-size="8.6" text-anchor="middle" fill="#444" textLength="4.39" lengthAdjust="spacingAndGlyphs" stroke="#444" stroke-width="0.25">4</text>
<line x1="377.90" y1="395.40" x2="460.80" y2="358.50" stroke="#000" stroke-width="1.5" stroke-dasharray="1.8 1.5"/>
<circle cx="381.20" cy="378.00" r="1.55" fill="#0c22d8" stroke="#000" stroke-width="0.8"/>
<circle cx="386.30" cy="382.90" r="1.55" fill="#0c22d8" stroke="#000" stroke-width="0.8"/>
<circle cx="377.30" cy="395.40" r="1.55" fill="#0c22d8" stroke="#000" stroke-width="0.8"/>
<circle cx="392.50" cy="398.30" r="1.55" fill="#0c22d8" stroke="#000" stroke-width="0.8"/>
<circle cx="382.70" cy="415.10" r="1.55" fill="#0c22d8" stroke="#000" stroke-width="0.8"/>
<circle cx="404.20" cy="383.60" r="1.55" fill="#0c22d8" stroke="#000" stroke-width="0.8"/>
<circle cx="406.60" cy="371.50" r="1.55" fill="#0c22d8" stroke="#000" stroke-width="0.8"/>
<circle cx="426.10" cy="370.20" r="1.55" fill="#0c22d8" stroke="#000" stroke-width="0.8"/>
<circle cx="460.80" cy="333.10" r="1.55" fill="#0c22d8" stroke="#000" stroke-width="0.8"/>
<circle cx="448.30" cy="398.90" r="1.55" fill="#0c22d8" stroke="#000" stroke-width="0.8"/>
<text x="372.60" y="342.80" font-size="7.4" fill="#333" font-style="italic" stroke="#333" stroke-width="0.12">r</text>
<text x="375.20" y="342.80" font-size="7.4" fill="#333" stroke="#333" stroke-width="0.12">: 0.5967</text>
<text x="372.60" y="351.40" font-size="7.4" fill="#333" stroke="#333" stroke-width="0.12">R</text>
<text x="377.50" y="348.50" font-size="3.6" fill="#555" stroke="#333" stroke-width="0.12">2</text>
<text x="378.50" y="351.40" font-size="7.4" fill="#333" stroke="#333" stroke-width="0.12">: 0.3561</text>
<text x="372.60" y="360.20" font-size="7.4" fill="#333" font-style="italic" stroke="#333" stroke-width="0.12">p</text>
<text x="376.60" y="360.20" font-size="7.4" fill="#333" textLength="44.20" lengthAdjust="spacingAndGlyphs" stroke="#333" stroke-width="0.12">-value: 0.0686</text>
<text font-size="10.0" fill="#444" stroke="#444" stroke-width="0.1" text-anchor="middle" transform="translate(346.2 366.4) rotate(-90)"><tspan textLength="111" lengthAdjust="spacingAndGlyphs">MFI Annexin-V normalized to IgG</tspan></text>
<text x="124.30" y="473.70" font-size="11.2" font-weight="bold" textLength="7.34" lengthAdjust="spacingAndGlyphs">F</text>
<text x="274.77" y="474.20" font-size="11.2" font-weight="bold" textLength="10.03" lengthAdjust="spacingAndGlyphs">G</text>
<text x="160.80" y="481.30" font-size="9.2" fill="#111" textLength="16.90" lengthAdjust="spacingAndGlyphs" stroke="#111" stroke-width="0.25">CML</text>
<text x="178.60" y="478.70" font-size="4.5" fill="#333" textLength="27.60" lengthAdjust="spacingAndGlyphs" stroke="none">BCR/ABL1+</text>
<text x="208.80" y="481.30" font-size="8.0" fill="#111" textLength="30.60" lengthAdjust="spacingAndGlyphs" stroke="#111" stroke-width="0.25">patients</text>
<text x="308.80" y="480.80" font-size="9.2" fill="#111" textLength="18.60" lengthAdjust="spacingAndGlyphs" stroke="#111" stroke-width="0.25">MPN</text>
<text x="327.20" y="479.40" font-size="4.6" fill="#333" textLength="30.20" lengthAdjust="spacingAndGlyphs" stroke="none">JAK2V617F+</text>
<text x="359.70" y="480.80" font-size="8.0" fill="#111" textLength="30.80" lengthAdjust="spacingAndGlyphs" stroke="#111" stroke-width="0.25">patients</text>
<line x1="166.20" y1="490.25" x2="166.20" y2="581.10" stroke="#000" stroke-width="1.4" />
<line x1="165.50" y1="580.40" x2="240.40" y2="580.40" stroke="#000" stroke-width="1.4" />
<line x1="162.20" y1="550.35" x2="166.20" y2="550.35" stroke="#000" stroke-width="1.2" />
<text x="160.60" y="553.25" font-size="8.2" text-anchor="end" fill="#333" textLength="10.01" lengthAdjust="spacingAndGlyphs" stroke="#333" stroke-width="0.25">0.5</text>
<line x1="162.20" y1="520.30" x2="166.20" y2="520.30" stroke="#000" stroke-width="1.2" />
<text x="160.60" y="523.20" font-size="8.2" text-anchor="end" fill="#333" textLength="10.01" lengthAdjust="spacingAndGlyphs" stroke="#333" stroke-width="0.25">1.0</text>
<line x1="162.20" y1="490.25" x2="166.20" y2="490.25" stroke="#000" stroke-width="1.2" />
<text x="160.60" y="493.15" font-size="8.2" text-anchor="end" fill="#333" textLength="10.01" lengthAdjust="spacingAndGlyphs" stroke="#333" stroke-width="0.25">1.5</text>
<line x1="187.40" y1="580.40" x2="187.40" y2="584.20" stroke="#000" stroke-width="1.2" />
<line x1="219.40" y1="580.40" x2="219.40" y2="584.20" stroke="#000" stroke-width="1.2" />
<text x="184.00" y="591.50" font-size="7.4" fill="#333" stroke="#333" stroke-width="0.25">1</text>
<text x="188.30" y="588.60" font-size="3.8" fill="#333" stroke="#333" stroke-width="0.25">st</text>
<text x="215.00" y="591.50" font-size="7.4" fill="#333" stroke="#333" stroke-width="0.25">2</text>
<text x="219.70" y="588.60" font-size="3.8" fill="#333" stroke="#333" stroke-width="0.25">nd</text>
<text x="180.80" y="602.60" font-size="9.8" fill="#333" textLength="44.60" lengthAdjust="spacingAndGlyphs" stroke="#333" stroke-width="0.25">Serial plating</text>
<line x1="189.20" y1="492.50" x2="219.40" y2="492.50" stroke="#000" stroke-width="1.3" />
<text x="203.90" y="495.40" font-size="9.6" text-anchor="middle" font-weight="bold" fill="#111">*</text>
<text font-size="10.4" fill="#333" text-anchor="middle" transform="translate(132.60 536.70) rotate(-90)" stroke="#333" stroke-width="0.25"><tspan textLength="40.6" lengthAdjust="spacingAndGlyphs">fc aCD9/IgG</tspan></text>
<text font-size="9.8" fill="#333" text-anchor="middle" transform="translate(143.60 536.90) rotate(-90)" stroke="#333" stroke-width="0.25"><tspan textLength="38.6" lengthAdjust="spacingAndGlyphs">(#colonies)</tspan></text>
<line x1="317.30" y1="489.70" x2="317.30" y2="581.30" stroke="#000" stroke-width="1.4" />
<line x1="316.60" y1="580.60" x2="381.80" y2="580.60" stroke="#000" stroke-width="1.4" />
<line x1="313.30" y1="550.30" x2="317.30" y2="550.30" stroke="#000" stroke-width="1.2" />
<text x="311.70" y="553.20" font-size="8.2" text-anchor="end" fill="#333" textLength="10.01" lengthAdjust="spacingAndGlyphs" stroke="#333" stroke-width="0.25">0.5</text>
<line x1="313.30" y1="520.00" x2="317.30" y2="520.00" stroke="#000" stroke-width="1.2" />
<text x="311.70" y="522.90" font-size="8.2" text-anchor="end" fill="#333" textLength="10.01" lengthAdjust="spacingAndGlyphs" stroke="#333" stroke-width="0.25">1.0</text>
<line x1="313.30" y1="489.70" x2="317.30" y2="489.70" stroke="#000" stroke-width="1.2" />
<text x="311.70" y="492.60" font-size="8.2" text-anchor="end" fill="#333" textLength="10.01" lengthAdjust="spacingAndGlyphs" stroke="#333" stroke-width="0.25">1.5</text>
<line x1="335.90" y1="580.60" x2="335.90" y2="584.40" stroke="#000" stroke-width="1.2" />
<line x1="363.20" y1="580.60" x2="363.20" y2="584.40" stroke="#000" stroke-width="1.2" />
<text x="332.50" y="591.50" font-size="7.4" fill="#333" stroke="#333" stroke-width="0.25">1</text>
<text x="336.80" y="588.60" font-size="3.8" fill="#333" stroke="#333" stroke-width="0.25">st</text>
<text x="358.80" y="591.50" font-size="7.4" fill="#333" stroke="#333" stroke-width="0.25">2</text>
<text x="363.50" y="588.60" font-size="3.8" fill="#333" stroke="#333" stroke-width="0.25">nd</text>
<text x="327.70" y="602.60" font-size="9.8" fill="#333" textLength="43.70" lengthAdjust="spacingAndGlyphs" stroke="#333" stroke-width="0.25">Serial plating</text>
<line x1="336.50" y1="502.50" x2="362.30" y2="502.50" stroke="#000" stroke-width="1.3" />
<text x="349.00" y="505.40" font-size="9.6" text-anchor="middle" font-weight="bold" fill="#111">*</text>
<text font-size="10.4" fill="#333" text-anchor="middle" transform="translate(283.90 535.60) rotate(-90)" stroke="#333" stroke-width="0.25"><tspan textLength="39.4" lengthAdjust="spacingAndGlyphs">fc aCD9/IgG</tspan></text>
<text font-size="9.8" fill="#333" text-anchor="middle" transform="translate(295.20 535.60) rotate(-90)" stroke="#333" stroke-width="0.25"><tspan textLength="36.8" lengthAdjust="spacingAndGlyphs">(#colonies)</tspan></text>
<line x1="187.40" y1="504.40" x2="219.30" y2="540.60" stroke="#000" stroke-width="1.3" />
<line x1="187.40" y1="514.90" x2="219.30" y2="537.30" stroke="#000" stroke-width="1.3" />
<line x1="187.40" y1="523.00" x2="219.30" y2="520.40" stroke="#000" stroke-width="1.3" />
<line x1="187.40" y1="527.80" x2="219.30" y2="562.00" stroke="#000" stroke-width="1.3" />
<line x1="187.40" y1="535.60" x2="219.30" y2="550.70" stroke="#000" stroke-width="1.3" />
<line x1="187.40" y1="537.70" x2="219.30" y2="564.00" stroke="#000" stroke-width="1.3" />
<circle cx="187.40" cy="504.40" r="1.35" fill="#d0101c"/>
<circle cx="219.30" cy="540.60" r="1.35" fill="#d0101c"/>
<circle cx="187.40" cy="514.90" r="1.35" fill="#d0101c"/>
<circle cx="219.30" cy="537.30" r="1.35" fill="#d0101c"/>
<circle cx="187.40" cy="523.00" r="1.35" fill="#d0101c"/>
<circle cx="219.30" cy="520.40" r="1.35" fill="#d0101c"/>
<circle cx="187.40" cy="527.80" r="1.35" fill="#d0101c"/>
<circle cx="219.30" cy="562.00" r="1.35" fill="#d0101c"/>
<circle cx="187.40" cy="535.60" r="1.35" fill="#d0101c"/>
<circle cx="219.30" cy="550.70" r="1.35" fill="#d0101c"/>
<circle cx="187.40" cy="537.70" r="1.35" fill="#d0101c"/>
<circle cx="219.30" cy="564.00" r="1.35" fill="#d0101c"/>
<text x="223.20" y="522.70" font-size="7.2" fill="#222" textLength="7.80" lengthAdjust="spacingAndGlyphs" stroke="#222" stroke-width="0.25">#2</text>
<text x="223.20" y="538.80" font-size="7.2" fill="#222" textLength="7.80" lengthAdjust="spacingAndGlyphs" stroke="#222" stroke-width="0.25">#5</text>
<text x="223.20" y="545.80" font-size="7.2" fill="#222" textLength="7.80" lengthAdjust="spacingAndGlyphs" stroke="#222" stroke-width="0.25">#6</text>
<text x="223.20" y="552.70" font-size="7.2" fill="#222" textLength="7.80" lengthAdjust="spacingAndGlyphs" stroke="#222" stroke-width="0.25">#3</text>
<text x="223.20" y="563.50" font-size="7.2" fill="#222" textLength="7.80" lengthAdjust="spacingAndGlyphs" stroke="#222" stroke-width="0.25">#4</text>
<text x="223.20" y="571.80" font-size="7.2" fill="#222" textLength="7.80" lengthAdjust="spacingAndGlyphs" stroke="#222" stroke-width="0.25">#1</text>
<line x1="335.90" y1="512.20" x2="363.20" y2="570.80" stroke="#000" stroke-width="1.3" />
<line x1="335.90" y1="542.50" x2="363.20" y2="580.20" stroke="#000" stroke-width="1.3" />
<circle cx="335.90" cy="510.30" r="1.3" fill="#1438d0"/>
<circle cx="335.90" cy="512.20" r="1.3" fill="#1438d0"/>
<circle cx="335.90" cy="525.30" r="1.3" fill="#1438d0"/>
<circle cx="335.90" cy="542.50" r="1.3" fill="#1438d0"/>
<circle cx="335.90" cy="550.00" r="1.3" fill="#1438d0"/>
<circle cx="363.20" cy="570.80" r="1.3" fill="#1438d0"/>
<circle cx="363.20" cy="580.20" r="1.3" fill="#1438d0"/>
<text x="366.20" y="571.80" font-size="7.2" fill="#222" textLength="7.80" lengthAdjust="spacingAndGlyphs" stroke="#222" stroke-width="0.25">#3</text>
<text x="366.20" y="578.80" font-size="7.2" fill="#222" textLength="7.80" lengthAdjust="spacingAndGlyphs" stroke="#222" stroke-width="0.25">#5</text>
</svg></body></html>
